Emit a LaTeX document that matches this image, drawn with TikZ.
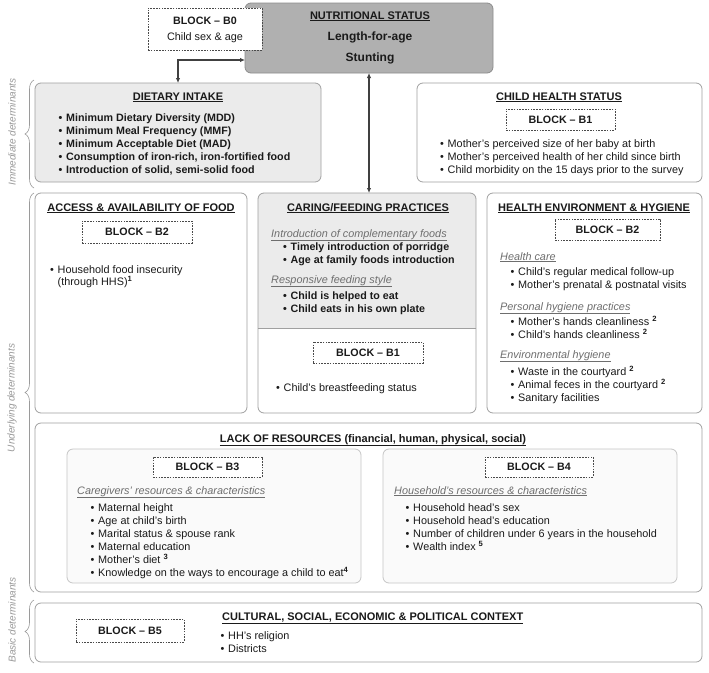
\documentclass[tikz,border=0pt]{standalone}
\usepackage{fontspec}
\setmainfont{Liberation Sans}
\usetikzlibrary{arrows.meta,decorations.pathreplacing}
\definecolor{txtc}{HTML}{1A1A1A}
\definecolor{boxc}{HTML}{A0A0A0}
\definecolor{lightf}{HTML}{EBEBEB}
\definecolor{nutrf}{HTML}{B0B0B0}
\definecolor{dashc}{HTML}{4A4A4A}
\definecolor{subc}{HTML}{6E6E6E}
\definecolor{sidec}{HTML}{9A9A9A}
\definecolor{innerf}{HTML}{FAFAFA}
\newcommand\fs{\fontsize{10.85}{13}\selectfont}
\newcommand\fb{\fontsize{10.7}{13}\selectfont\bfseries}
\newcommand\ft{\fontsize{11}{13}\selectfont\bfseries}
\newcommand\bul{\makebox[7.5pt][l]{•}}
\newcommand\sps[1]{\textsuperscript{\bfseries #1}}
\begin{document}
\begin{tikzpicture}[x=1pt,y=-1pt,
  panel/.style={draw=boxc, line width=0.8pt, rounded corners=6pt, anchor=north west, inner sep=0pt, outer sep=0pt},
  blockbox/.style={draw=dashc, line width=0.9pt, dash pattern=on 1.6pt off 1.2pt, fill=white, anchor=north west, inner sep=0pt, outer sep=0pt, font=\fb, text=txtc},
  t/.style={anchor=base west, inner sep=0pt, font=\fs, text=txtc},
  tb/.style={anchor=base west, inner sep=0pt, font=\fb, text=txtc},
  ttl/.style={anchor=base, inner sep=0pt, font=\ft, text=txtc},
  sub/.style={anchor=base west, inner sep=0pt, font=\fs\itshape, text=subc},
  side/.style={rotate=90, inner sep=0pt, font=\fontsize{10}{12}\selectfont\itshape, text=sidec},
  brc/.style={draw=sidec, line width=0.6pt, decorate, decoration={brace, amplitude=9pt}},
  arr/.style={draw=black!75, line width=1.1pt, {Latex[length=5pt,width=4.5pt]}-{Latex[length=5pt,width=4.5pt]}}
]
\fill[white] (0,0) rectangle (709,672);
\useasboundingbox (0,0) rectangle (709,672);

% ---------- Nutritional status ----------
\node[panel, draw=black!45, fill=nutrf, minimum width=248pt, minimum height=70pt] (nutr) at (245,3) {};
\node[ttl] (nutrT) at (370,19) {\underline{NUTRITIONAL STATUS}};
\node[ttl, font=\fontsize{12}{14}\selectfont\bfseries] (nutr1) at (370,40.5) {Length-for-age};
\node[ttl, font=\fontsize{12}{14}\selectfont\bfseries] (nutr2) at (370,61) {Stunting};

\node[blockbox, minimum width=114pt, minimum height=42pt] (b0) at (148,8) {};
\node[ttl, font=\fb] (b0a) at (205,24) {BLOCK – B0};
\node[ttl, font=\fs] (b0b) at (205,40) {Child sex \& age};

% ---------- Dietary intake ----------
\node[panel, fill=lightf, minimum width=286pt, minimum height=99pt] (diet) at (35,83) {};
\node[ttl] (dietT) at (178,100) {\underline{DIETARY INTAKE}};
\node[tb] (d1) at (58.5,121.5) {\bul Minimum Dietary Diversity (MDD)};
\node[tb] (d2) at (58.5,134.5) {\bul Minimum Meal Frequency (MMF)};
\node[tb] (d3) at (58.5,147.5) {\bul Minimum Acceptable Diet (MAD)};
\node[tb] (d4) at (58.5,160.5) {\bul Consumption of iron-rich, iron-fortified food};
\node[tb] (d5) at (58.5,173.5) {\bul Introduction of solid, semi-solid food};

% ---------- Child health status ----------
\node[panel, fill=white, minimum width=285pt, minimum height=99pt] (chs) at (417,83) {};
\node[ttl] (chsT) at (559,100) {\underline{CHILD HEALTH STATUS}};
\node[blockbox, minimum width=109pt, minimum height=21pt] (b1a) at (506,109) {BLOCK – B1};
\node[t] (c1) at (440,147) {\bul Mother’s perceived size of her baby at birth};
\node[t] (c2) at (440,160) {\bul Mother’s perceived health of her child since birth};
\node[t] (c3) at (440,173) {\bul Child morbidity on the 15 days prior to the survey};

% ---------- Access & availability ----------
\node[panel, fill=white, minimum width=212pt, minimum height=220pt] (acc) at (35,193) {};
\node[ttl] (accT) at (141,211) {\underline{ACCESS \& AVAILABILITY OF FOOD}};
\node[blockbox, minimum width=110pt, minimum height=22pt] (b2a) at (82,221) {BLOCK – B2};
\node[t] (a1) at (50,273) {\bul Household food insecurity};
\node[t] (a2) at (57.5,285) {(through HHS)\sps{1}};

% ---------- Caring / feeding practices ----------
\begin{scope}
  \clip[rounded corners=6pt] (258,193) rectangle (476,413);
  \fill[lightf] (258,193) rectangle (476,328);
\end{scope}
\node[panel, minimum width=218pt, minimum height=220pt] (care) at (258,193) {};
\coordinate (cdiv) at (0,328);
\draw[draw=boxc, line width=0.8pt] (care.west |- cdiv) -- (care.east |- cdiv);
\node[ttl] (careT) at (368,211) {\underline{CARING/FEEDING PRACTICES}};
\node[sub] (cs1) at (271,237) {\underline{Introduction of complementary foods}};
\node[tb] (f1) at (283,250) {\bul Timely introduction of porridge};
\node[tb] (f2) at (283,263) {\bul Age at family foods introduction};
\node[sub] (cs2) at (271,283) {\underline{Responsive feeding style}};
\node[tb] (f3) at (283,299) {\bul Child is helped to eat};
\node[tb] (f4) at (283,312) {\bul Child eats in his own plate};
\node[blockbox, minimum width=110pt, minimum height=21pt] (b1b) at (313,342) {BLOCK – B1};
\node[t] (f5) at (276,391) {\bul Child’s breastfeeding status};

% ---------- Health environment & hygiene ----------
\node[panel, fill=white, minimum width=215pt, minimum height=220pt] (hea) at (487,193) {};
\node[ttl] (heaT) at (594,211) {\underline{HEALTH ENVIRONMENT \& HYGIENE}};
\node[blockbox, minimum width=105pt, minimum height=21pt] (b2b) at (555,219) {BLOCK – B2};
\node[sub] (hs1) at (500,260) {\underline{Health care}};
\node[t] (h1) at (510.5,275) {\bul Child’s regular medical follow-up};
\node[t] (h2) at (510.5,288.5) {\bul Mother’s prenatal \& postnatal visits};
\node[sub] (hs2) at (500,310) {\underline{Personal hygiene practices}};
\node[t] (h3) at (510.5,325) {\bul Mother’s hands cleanliness \sps{2}};
\node[t] (h4) at (510.5,338) {\bul Child’s hands cleanliness \sps{2}};
\node[sub] (hs3) at (500,358) {\underline{Environmental hygiene}};
\node[t] (h5) at (510.5,375) {\bul Waste in the courtyard \sps{2}};
\node[t] (h6) at (510.5,388) {\bul Animal feces in the courtyard \sps{2}};
\node[t] (h7) at (510.5,401) {\bul Sanitary facilities};

% ---------- Lack of resources ----------
\node[panel, fill=white, minimum width=667pt, minimum height=169pt] (lack) at (35,423) {};
\node[ttl] (lackT) at (373,442) {\underline{LACK OF RESOURCES (financial, human, physical, social)}};

\node[panel, draw=gray!45, fill=innerf, minimum width=294pt, minimum height=134pt] (b3p) at (67,449) {};
\node[blockbox, minimum width=109pt, minimum height=20pt] (b3) at (153,457) {BLOCK – B3};
\node[sub] (rs1) at (77,494) {\underline{Caregivers’ resources \& characteristics}};
\node[t] (r1) at (90.5,511) {\bul Maternal height};
\node[t] (r2) at (90.5,524) {\bul Age at child’s birth};
\node[t] (r3) at (90.5,537) {\bul Marital status \& spouse rank};
\node[t] (r4) at (90.5,550) {\bul Maternal education};
\node[t] (r5) at (90.5,563) {\bul Mother’s diet \sps{3}};
\node[t] (r6) at (90.5,576) {\bul Knowledge on the ways to encourage a child to eat\sps{4}};

\node[panel, draw=gray!45, fill=innerf, minimum width=294pt, minimum height=134pt] (b4p) at (383,449) {};
\node[blockbox, minimum width=108pt, minimum height=20pt] (b4) at (485,457) {BLOCK – B4};
\node[sub] (hhs) at (394,494) {\underline{Household’s resources \& characteristics}};
\node[t] (q1) at (405.5,511) {\bul Household head’s sex};
\node[t] (q2) at (405.5,524) {\bul Household head’s education};
\node[t] (q3) at (405.5,537) {\bul Number of children under 6 years in the household};
\node[t] (q4) at (405.5,550) {\bul Wealth index \sps{5}};

% ---------- Context ----------
\node[panel, fill=white, minimum width=667pt, minimum height=59pt] (ctx) at (35,603) {};
\node[anchor=base west, inner sep=0pt, font=\ft, text=txtc] (ctxT) at (222,620) {\underline{CULTURAL, SOCIAL, ECONOMIC \& POLITICAL CONTEXT}};
\node[blockbox, minimum width=108pt, minimum height=23pt] (b5) at (76,619) {BLOCK – B5};
\node[t] (x1) at (220.5,639) {\bul HH’s religion};
\node[t] (x2) at (220.5,652) {\bul Districts};

% ---------- Arrows ----------
\coordinate (ac) at (0,60);
\draw[arr] (nutr.west |- ac) -| (diet.north);
\draw[arr] (nutr.south) -- (nutr.south |- care.north);

% ---------- Side braces and labels ----------
\coordinate (br1a) at (34,188);
\coordinate (br1b) at (34,80);
\coordinate (br2a) at (34,592);
\coordinate (br2b) at (34,193);
\coordinate (br3a) at (34,663);
\coordinate (br3b) at (34,600);
\draw[brc] (br1a) -- (br1b);
\draw[brc] (br2a) -- (br2b);
\draw[brc] (br3a) -- (br3b);
\node[side] (s1) at (12,132) {Immediate determinants};
\node[side] (s2) at (12,398) {Underlying determinants};
\node[side] (s3) at (12,620) {Basic determinants};
\end{tikzpicture}
\end{document}
